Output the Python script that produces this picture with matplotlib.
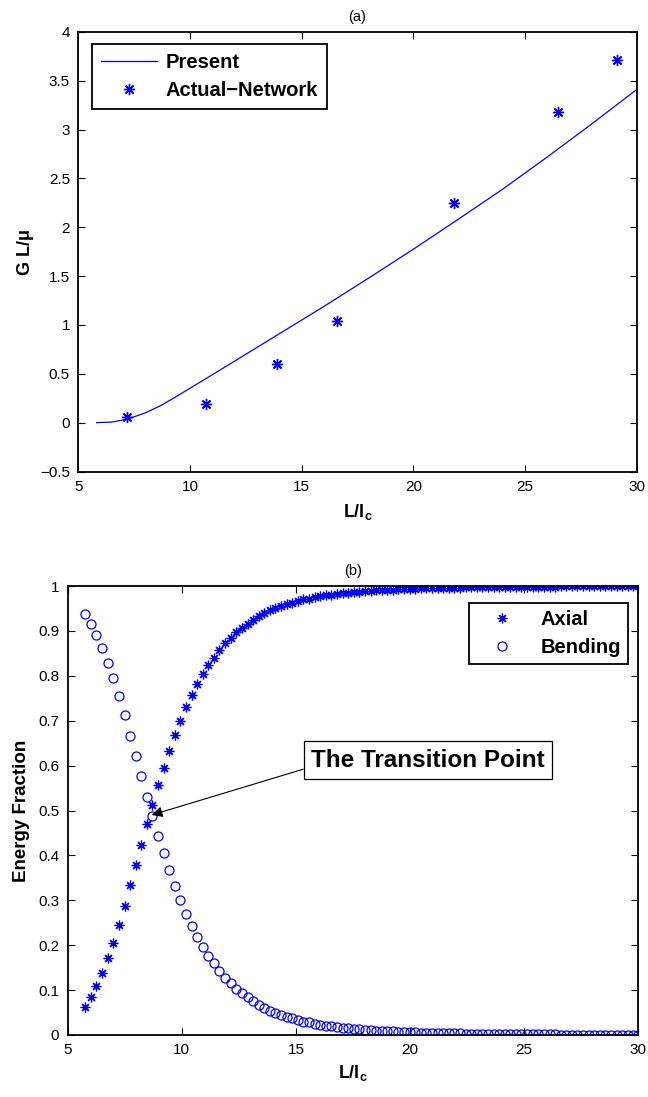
import matplotlib
matplotlib.use("Agg")
import matplotlib.pyplot as plt
from matplotlib.ticker import FixedLocator, FuncFormatter

plt.rcParams['font.family'] = ['Liberation Sans', 'DejaVu Sans']
plt.rcParams['mathtext.fontset'] = 'custom'
plt.rcParams['mathtext.rm'] = 'Liberation Sans'
plt.rcParams['mathtext.bf'] = 'Liberation Sans:bold'
plt.rcParams['axes.unicode_minus'] = True

# ---------------- data: panel (a) ----------------
present_x = [5.82, 6.5, 7.17, 8.0, 8.66, 9.3, 10.0, 11.0, 12.0, 13.0, 14.0, 15.0,
             16.0, 17.0, 18.0, 20.0, 22.0, 24.0, 26.0, 28.0, 30.0]
present_y = [0.0, 0.006, 0.034, 0.10, 0.171, 0.255, 0.352, 0.49, 0.63, 0.77, 0.91, 1.05,
             1.19, 1.335, 1.48, 1.775, 2.08, 2.39, 2.72, 3.06, 3.41]
network_x = [7.18, 10.72, 13.90, 16.60, 21.82, 26.48, 29.12]
network_y = [0.055, 0.195, 0.598, 1.044, 2.249, 3.18, 3.71]

# ---------------- data: panel (b) ----------------
ratio_x = [5.77, 6.02, 6.26, 6.51, 6.75, 7.00, 7.24, 7.49, 7.73, 7.98,
           8.22, 8.47, 8.71, 8.96, 9.20, 9.45, 9.69, 9.94, 10.18, 10.43,
           10.67, 10.92, 11.16, 11.41, 11.65, 11.90, 12.14, 12.39, 12.63, 12.88,
           13.12, 13.37, 13.61, 13.86, 14.10, 14.35, 14.59, 14.84, 15.08, 15.33,
           15.57, 15.82, 16.06, 16.31, 16.55, 16.80, 17.04, 17.29, 17.53, 17.78,
           18.02, 18.27, 18.51, 18.76, 19.00, 19.25, 19.49, 19.74, 19.98, 20.23,
           20.47, 20.72, 20.96, 21.21, 21.45, 21.70, 21.94, 22.19, 22.43, 22.68,
           22.92, 23.17, 23.41, 23.66, 23.90, 24.15, 24.39, 24.64, 24.88, 25.13,
           25.37, 25.62, 25.86, 26.11, 26.35, 26.60, 26.84, 27.09, 27.33, 27.58,
           27.82, 28.07, 28.31, 28.56, 28.80, 29.05, 29.29, 29.54, 29.78, 30.00]
bending = [0.937, 0.916, 0.891, 0.862, 0.829, 0.794, 0.755, 0.712, 0.667, 0.622,
           0.577, 0.531, 0.488, 0.444, 0.405, 0.367, 0.332, 0.300, 0.269, 0.243,
           0.219, 0.197, 0.177, 0.160, 0.143, 0.128, 0.115, 0.103, 0.093, 0.084,
           0.076, 0.067, 0.060, 0.054, 0.049, 0.044, 0.040, 0.037, 0.033, 0.030,
           0.028, 0.025, 0.023, 0.021, 0.019, 0.018, 0.016, 0.015, 0.014, 0.013,
           0.012, 0.011, 0.010, 0.009, 0.0085, 0.008, 0.0073, 0.0068, 0.0063, 0.0059,
           0.0055, 0.0051, 0.0048, 0.0044, 0.0041, 0.0039, 0.0036, 0.0034, 0.0032, 0.0030,
           0.0028, 0.0026, 0.0025, 0.0023, 0.0022, 0.0020, 0.0019, 0.0018, 0.0017, 0.0016,
           0.0015, 0.0014, 0.0013, 0.0012, 0.0012, 0.0011, 0.0010, 0.0010, 0.0009, 0.0009,
           0.0008, 0.0008, 0.0008, 0.0007, 0.0007, 0.0007, 0.0006, 0.0006, 0.0006, 0.0005]
axial = [0.063, 0.084, 0.109, 0.138, 0.171, 0.206, 0.245, 0.288, 0.333, 0.378,
         0.423, 0.469, 0.512, 0.556, 0.595, 0.633, 0.668, 0.700, 0.731, 0.757,
         0.781, 0.803, 0.823, 0.840, 0.857, 0.872, 0.885, 0.897, 0.907, 0.916,
         0.924, 0.933, 0.940, 0.946, 0.951, 0.956, 0.960, 0.963, 0.967, 0.970,
         0.972, 0.975, 0.977, 0.979, 0.981, 0.982, 0.984, 0.985, 0.986, 0.987,
         0.988, 0.989, 0.990, 0.991, 0.9915, 0.992, 0.9927, 0.9932, 0.9937, 0.9941,
         0.9945, 0.9949, 0.9952, 0.9956, 0.9959, 0.9961, 0.9964, 0.9966, 0.9968, 0.9970,
         0.9972, 0.9974, 0.9975, 0.9977, 0.9978, 0.9980, 0.9981, 0.9982, 0.9983, 0.9984,
         0.9985, 0.9986, 0.9987, 0.9988, 0.9988, 0.9989, 0.9990, 0.9990, 0.9991, 0.9991,
         0.9992, 0.9992, 0.9992, 0.9993, 0.9993, 0.9993, 0.9994, 0.9994, 0.9994, 0.9995]

xticks = [5, 10, 15, 20, 25, 30]
yticks_a = [-0.5, 0, 0.5, 1, 1.5, 2, 2.5, 3, 3.5, 4]
yticks_b = [0, 0.1, 0.2, 0.3, 0.4, 0.5, 0.6, 0.7, 0.8, 0.9, 1]

BLUE = (0, 0, 1)
ASTER = (8, 2, 0)

def fmt(v, pos):
    s = '%g' % v
    return s.replace('-', '\u2212')

W, H = 648, 1097
fig = plt.figure(figsize=(W / 100, H / 100), dpi=100)

def style(ax):
    ax.tick_params(direction='in', top=True, right=True, length=5, width=0.8,
                   labelsize=11, pad=6)
    for s in ax.spines.values():
        s.set_linewidth(1.3)
    ax.xaxis.set_major_locator(FixedLocator(xticks))
    ax.xaxis.set_major_formatter(FuncFormatter(fmt))
    ax.yaxis.set_major_formatter(FuncFormatter(fmt))

# ---------------- panel (a) ----------------
axa = fig.add_axes([78.3 / W, 1 - 471.5 / H, 558.4 / W, (471.5 - 31.9) / H])
axa.plot(present_x, present_y, '-', color=BLUE, lw=0.9, label='Present')
axa.plot(network_x, network_y, linestyle='none', marker=ASTER, ms=8,
         mec=BLUE, mew=1.0, color=BLUE, label='Actual\u2212Network')
axa.set_xlim(5, 30)
axa.set_ylim(-0.5, 4)
axa.yaxis.set_major_locator(FixedLocator(yticks_a))
style(axa)
axa.set_title('(a)', fontsize=10.5, pad=8)
axa.set_xlabel(r'L/l$_\mathbf{c}$', fontsize=13, fontweight='bold', labelpad=6)
axa.set_ylabel('G L/\u03bc', fontsize=13, fontweight='bold', labelpad=4)
leg = axa.legend(loc='upper left', bbox_to_anchor=(0.0245, 0.9725), borderaxespad=0,
                 fancybox=False, edgecolor='black', framealpha=1,
                 prop={'weight': 'bold', 'size': 14.5}, handlelength=2.8,
                 handletextpad=0.4, borderpad=0.45, labelspacing=0.45)
leg.get_frame().set_linewidth(1.3)

# ---------------- panel (b) ----------------
axb = fig.add_axes([67.7 / W, 1 - 1035 / H, 570.6 / W, 449 / H])
axb.plot(ratio_x, axial, linestyle='none', marker=ASTER, ms=7, mec=BLUE,
         mew=0.9, color=BLUE, label='Axial')
axb.plot(ratio_x, bending, linestyle='none', marker='o', ms=6.5, mfc='none',
         mec=BLUE, mew=0.9, color=BLUE, label='Bending')
axb.set_xlim(5, 30)
axb.set_ylim(0, 1)
axb.yaxis.set_major_locator(FixedLocator(yticks_b))
style(axb)
axb.set_title('(b)', fontsize=10.5, pad=8)
axb.set_xlabel(r'L/l$_\mathbf{c}$', fontsize=13, fontweight='bold', labelpad=4)
axb.set_ylabel('Energy Fraction', fontsize=13.5, fontweight='bold', labelpad=6)
legb = axb.legend(loc='upper right', bbox_to_anchor=(0.982, 0.962), borderaxespad=0,
                  fancybox=False, edgecolor='black', framealpha=1,
                  prop={'weight': 'bold', 'size': 14.5}, handlelength=2.6,
                  handletextpad=0.6, borderpad=0.35, labelspacing=0.45)
legb.get_frame().set_linewidth(1.3)

axb.annotate('', xy=(8.68, 0.49), xytext=(15.32, 0.592),
             arrowprops=dict(arrowstyle='-|>', color='black', lw=0.8,
                             mutation_scale=16, shrinkA=0, shrinkB=0))
axb.text(20.78, 0.612, 'The Transition Point', fontsize=17.5, fontweight='bold',
         ha='center', va='center',
         bbox=dict(boxstyle='square,pad=0.3', fc='white', ec='black', lw=0.9))

fig.savefig('out.png', dpi=100)
